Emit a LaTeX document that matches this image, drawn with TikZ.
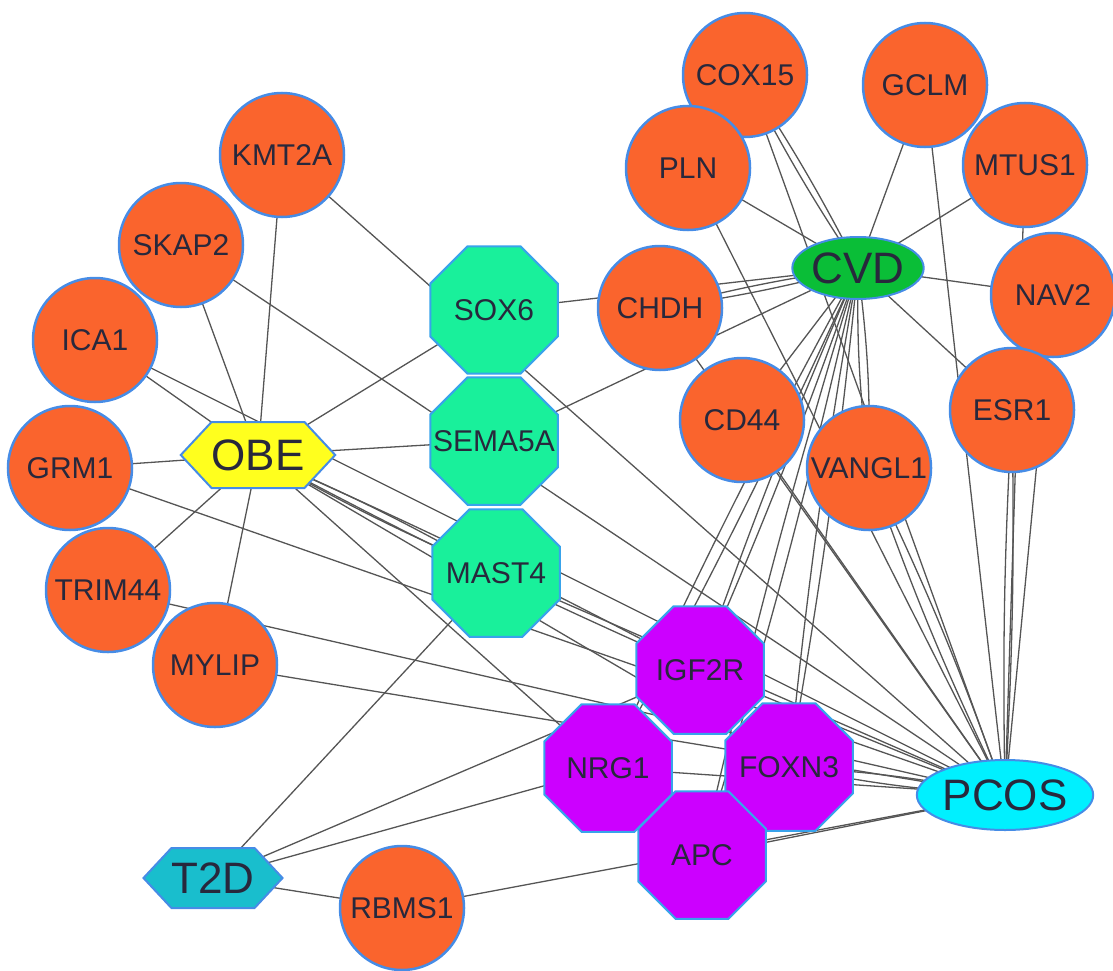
\documentclass[tikz,border=0pt]{standalone}
\usepackage{fontspec}
\setmainfont{Liberation Sans}
\usetikzlibrary{shapes.geometric, shapes.symbols, backgrounds}

\definecolor{geneorange}{RGB}{250,100,45}
\definecolor{rimblue}{RGB}{70,140,230}
\definecolor{hubgreen}{RGB}{25,240,155}
\definecolor{hubpurple}{RGB}{204,0,255}
\definecolor{cvdgreen}{RGB}{10,190,55}
\definecolor{pcoscyan}{RGB}{0,240,255}
\definecolor{tdteal}{RGB}{25,190,205}
\definecolor{obeyellow}{RGB}{255,255,30}
\definecolor{linkgray}{RGB}{85,85,85}
\definecolor{labeltext}{RGB}{40,40,60}

\newcommand{\hubname}[1]{\makebox[0pt]{#1}}

\begin{document}
\begin{tikzpicture}[x=1pt, y=-1pt,
  every node/.style={inner sep=0pt, text=labeltext},
  gene/.style={circle, draw=rimblue, line width=2.5pt, fill=geneorange, minimum size=124pt, font=\fontsize{30}{32}\selectfont},
  hub/.style={regular polygon, regular polygon sides=8, draw=rimblue!80!cyan, line width=2pt, minimum size=138pt, font=\fontsize{30}{32}\selectfont},
  disease/.style={draw=rimblue, line width=2pt, font=\fontsize{44}{46}\selectfont},
  hexa/.style={disease, signal, signal to=east and west, signal pointer angle=94},
  link/.style={draw=linkgray, line width=1.3pt}]

\useasboundingbox (0,0) rectangle (1113,971);

  % Disease nodes
  \node[hexa, fill=obeyellow, minimum width=127pt, minimum height=66pt] (obe) at (258,455) {OBE};
  \node[disease, ellipse, fill=cvdgreen, minimum width=126pt, minimum height=62pt] (cvd) at (858,268) {CVD};
  \node[disease, ellipse, fill=pcoscyan, minimum width=126pt, minimum height=70pt] (pcos) at (1005,795) {PCOS};
  \node[hexa, fill=tdteal, minimum width=130pt, minimum height=60pt] (t2d) at (213,878) {T2D};

  % Shared genes
  \node[hub, fill=hubgreen] (sox6) at (494,310) {\hubname{SOX6}};
  \node[hub, fill=hubgreen] (sema5a) at (494,441) {\hubname{SEMA5A}};
  \node[hub, fill=hubgreen] (mast4) at (496,573) {\hubname{MAST4}};
  \node[hub, fill=hubpurple] (igf2r) at (700,670) {\hubname{IGF2R}};
  \node[hub, fill=hubpurple] (nrg1) at (608,768) {\hubname{NRG1}};
  \node[hub, fill=hubpurple] (foxn3) at (789,767) {\hubname{FOXN3}};
  \node[hub, fill=hubpurple] (apc) at (702,855) {\hubname{APC}};

  % Single genes
  \node[gene] (kmt2a) at (282,155) {KMT2A};
  \node[gene] (skap2) at (181,245) {SKAP2};
  \node[gene] (ica1) at (95,340) {ICA1};
  \node[gene] (grm1) at (70,468) {GRM1};
  \node[gene] (trim44) at (108,590) {TRIM44};
  \node[gene] (mylip) at (215,665) {MYLIP};
  \node[gene] (cox15) at (745,75) {COX15};
  \node[gene] (gclm) at (925,85) {GCLM};
  \node[gene] (mtus1) at (1025,165) {MTUS1};
  \node[gene] (pln) at (688,168) {PLN};
  \node[gene] (chdh) at (660,308) {CHDH};
  \node[gene] (nav2) at (1053,295) {NAV2};
  \node[gene] (cd44) at (742,420) {CD44};
  \node[gene] (vangl1) at (869,468) {VANGL1};
  \node[gene] (esr1) at (1012,410) {ESR1};
  \node[gene] (rbms1) at (402,908) {RBMS1};

  % Links
  \begin{pgfonlayer}{background}
  \draw[link] (obe.center) -- (kmt2a.center);
  \draw[link] (obe.center) -- (skap2.center);
  \draw[link] (obe.center) -- (ica1.center);
  \draw[link] (obe.center) -- (grm1.center);
  \draw[link] (obe.center) -- (trim44.center);
  \draw[link] (obe.center) -- (mylip.center);
  \draw[link] (obe.center) -- (sox6.center);
  \draw[link] (obe.center) -- (sema5a.center);
  \draw[link] (obe.center) to[bend left=3] (mast4.center);
  \draw[link] (obe.center) to[bend right=3] (mast4.center);
  \draw[link] (obe.center) to[bend left=2] (igf2r.center);
  \draw[link] (obe.center) to[bend right=2] (igf2r.center);
  \draw[link] (obe.center) -- (nrg1.center);
  \draw[link] (obe.center) -- (foxn3.center);

  \draw[link] (cvd.center) to[bend left=3] (cox15.center);
  \draw[link] (cvd.center) to[bend right=3] (cox15.center);
  \draw[link] (cvd.center) -- (gclm.center);
  \draw[link] (cvd.center) -- (mtus1.center);
  \draw[link] (cvd.center) -- (pln.center);
  \draw[link] (cvd.center) to[bend left=3] (chdh.center);
  \draw[link] (cvd.center) to[bend right=3] (chdh.center);
  \draw[link] (cvd.center) -- (nav2.center);
  \draw[link] (cvd.center) -- (cd44.center);
  \draw[link] (cvd.center) to[bend left=4] (vangl1.center);
  \draw[link] (cvd.center) to[bend right=4] (vangl1.center);
  \draw[link] (cvd.center) -- (esr1.center);
  \draw[link] (cvd.center) -- (sox6.center);
  \draw[link] (cvd.center) -- (sema5a.center);
  \draw[link] (cvd.center) to[bend left=2] (igf2r.center);
  \draw[link] (cvd.center) to[bend right=2] (igf2r.center);
  \draw[link] (cvd.center) to[bend left=2] (nrg1.center);
  \draw[link] (cvd.center) to[bend right=2] (nrg1.center);
  \draw[link] (cvd.center) to[bend left=2] (foxn3.center);
  \draw[link] (cvd.center) to[bend right=2] (foxn3.center);
  \draw[link] (cvd.center) to[bend left=2] (apc.center);
  \draw[link] (cvd.center) to[bend right=2] (apc.center);

  \draw[link] (pcos.center) -- (kmt2a.center);
  \draw[link] (pcos.center) -- (skap2.center);
  \draw[link] (pcos.center) -- (ica1.center);
  \draw[link] (pcos.center) -- (grm1.center);
  \draw[link] (pcos.center) -- (trim44.center);
  \draw[link] (pcos.center) -- (mylip.center);
  \draw[link] (pcos.center) -- (cox15.center);
  \draw[link] (pcos.center) -- (gclm.center);
  \draw[link] (pcos.center) -- (mtus1.center);
  \draw[link] (pcos.center) -- (pln.center);
  \draw[link] (pcos.center) -- (chdh.center);
  \draw[link] (pcos.center) -- (nav2.center);
  \draw[link] (pcos.center) -- (cd44.center);
  \draw[link] (pcos.center) to[bend left=3] (vangl1.center);
  \draw[link] (pcos.center) to[bend right=3] (vangl1.center);
  \draw[link] (pcos.center) to[bend left=2] (esr1.center);
  \draw[link] (pcos.center) to[bend right=2] (esr1.center);
  \draw[link] (pcos.center) -- (mast4.center);
  \draw[link] (pcos.center) -- (igf2r.center);
  \draw[link] (pcos.center) -- (nrg1.center);
  \draw[link] (pcos.center) to[bend left=4] (foxn3.center);
  \draw[link] (pcos.center) to[bend right=4] (foxn3.center);
  \draw[link] (pcos.center) -- (apc.center);
  \draw[link] (pcos.center) -- (rbms1.center);

  \draw[link] (t2d.center) -- (rbms1.center);
  \draw[link] (t2d.center) -- (mast4.center);
  \draw[link] (t2d.center) -- (nrg1.center);
  \draw[link] (t2d.center) -- (igf2r.center);
  \end{pgfonlayer}

\end{tikzpicture}
\end{document}
